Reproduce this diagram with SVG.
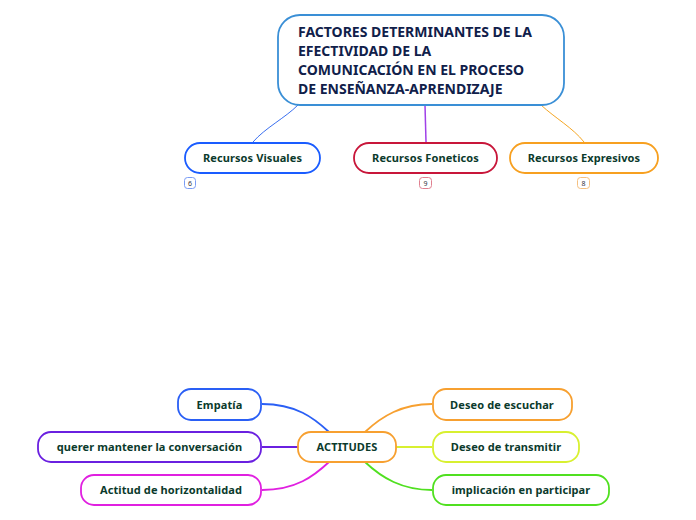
<svg xmlns="http://www.w3.org/2000/svg" width="696" height="520" viewBox="0 0 696 520">
<style>
.n{fill:#fff;stroke-width:1.8}
.t{font-family:"Noto Sans","Open Sans","Liberation Sans",sans-serif;font-weight:bold;font-size:11px;letter-spacing:0.1px;fill:#0b3a2c;text-anchor:middle}
.title{font-family:"Noto Sans","Open Sans","Liberation Sans",sans-serif;font-weight:bold;font-size:14px;fill:#10204a}
.b{fill:#fff;stroke-width:1}
.bt{font-family:"Noto Sans","Liberation Sans",sans-serif;font-size:7px;fill:#334;text-anchor:middle}
.c{fill:none}
</style>
<rect width="696" height="520" fill="#fff"/>
<g id="connectors">
<path class="c" d="M298,105 C285,118 265,128 253,142" stroke="#3a6ff0" stroke-width="1"/>
<path class="c" d="M425,105 L426,142" stroke="#a040e8" stroke-width="1.5"/>
<path class="c" d="M541,105 C555,118 573,128 584,142" stroke="#f5a623" stroke-width="1"/>
<path class="c" d="M262,404 C296,404 314,418 329,432" stroke="#2a5ff5" stroke-width="1.8"/>
<path class="c" d="M262,447 L298,447" stroke="#6a20e0" stroke-width="1.8"/>
<path class="c" d="M262,490 C296,490 314,476 329,462" stroke="#e020e0" stroke-width="1.8"/>
<path class="c" d="M365,432 C382,416 402,404 432,404" stroke="#f7a030" stroke-width="1.8"/>
<path class="c" d="M396,447 L432,447" stroke="#d8f030" stroke-width="1.8"/>
<path class="c" d="M365,462 C382,478 402,490 432,490" stroke="#50e020" stroke-width="1.8"/>
</g>
<g id="main">
<rect class="n" x="278" y="15" width="286" height="90" rx="22" stroke="#3a8fd6"/>
<text class="title" x="298" y="37">FACTORES DETERMINANTES DE LA</text>
<text class="title" x="298" y="56">EFECTIVIDAD DE LA</text>
<text class="title" x="298" y="75">COMUNICACIÓN EN EL PROCESO</text>
<text class="title" x="298" y="94">DE ENSEÑANZA-APRENDIZAJE</text>
</g>
<g id="visuales">
<rect class="n" x="185" y="143" width="135" height="30" rx="15" stroke="#1a5cff"/>
<text class="t" x="252.5" y="162">Recursos Visuales</text>
<rect class="b" x="184.5" y="177.5" width="11" height="11" rx="3" stroke="#7a9cf5"/>
<text class="bt" x="190" y="185.5">6</text>
</g>
<g id="foneticos">
<rect class="n" x="354" y="143" width="143" height="30" rx="15" stroke="#c8163a"/>
<text class="t" x="425.5" y="162">Recursos Foneticos</text>
<rect class="b" x="419.5" y="177.5" width="12" height="11" rx="3" stroke="#e08090"/>
<text class="bt" x="425.5" y="185.5">9</text>
</g>
<g id="expresivos">
<rect class="n" x="510" y="143" width="148" height="30" rx="15" stroke="#f7a020"/>
<text class="t" x="584" y="162">Recursos Expresivos</text>
<rect class="b" x="577.5" y="177.5" width="12" height="11" rx="3" stroke="#f5c080"/>
<text class="bt" x="583.5" y="185.5">8</text>
</g>
<g id="actitudes">
<rect class="n" x="298" y="432" width="98" height="30" rx="13" stroke="#f7a030"/>
<text class="t" x="347" y="451">ACTITUDES</text>
</g>
<g id="empatia">
<rect class="n" x="178" y="389" width="83" height="31" rx="13" stroke="#2a5ff5"/>
<text class="t" x="219.5" y="409">Empatía</text>
</g>
<g id="querer">
<rect class="n" x="38" y="432" width="223" height="30" rx="13" stroke="#6a20e0"/>
<text class="t" x="149.5" y="451">querer mantener la conversación</text>
</g>
<g id="horizontalidad">
<rect class="n" x="81" y="475" width="180" height="30" rx="13" stroke="#e020e0"/>
<text class="t" x="171" y="494">Actitud de horizontalidad</text>
</g>
<g id="escuchar">
<rect class="n" x="433" y="389" width="139" height="31" rx="13" stroke="#f7a030"/>
<text class="t" x="502" y="409">Deseo de escuchar</text>
</g>
<g id="transmitir">
<rect class="n" x="433" y="432" width="146" height="30" rx="13" stroke="#d8f030"/>
<text class="t" x="506" y="451">Deseo de transmitir</text>
</g>
<g id="implicacion">
<rect class="n" x="433" y="475" width="176" height="30" rx="13" stroke="#50e020"/>
<text class="t" x="521" y="494">implicación en participar</text>
</g>
</svg>
